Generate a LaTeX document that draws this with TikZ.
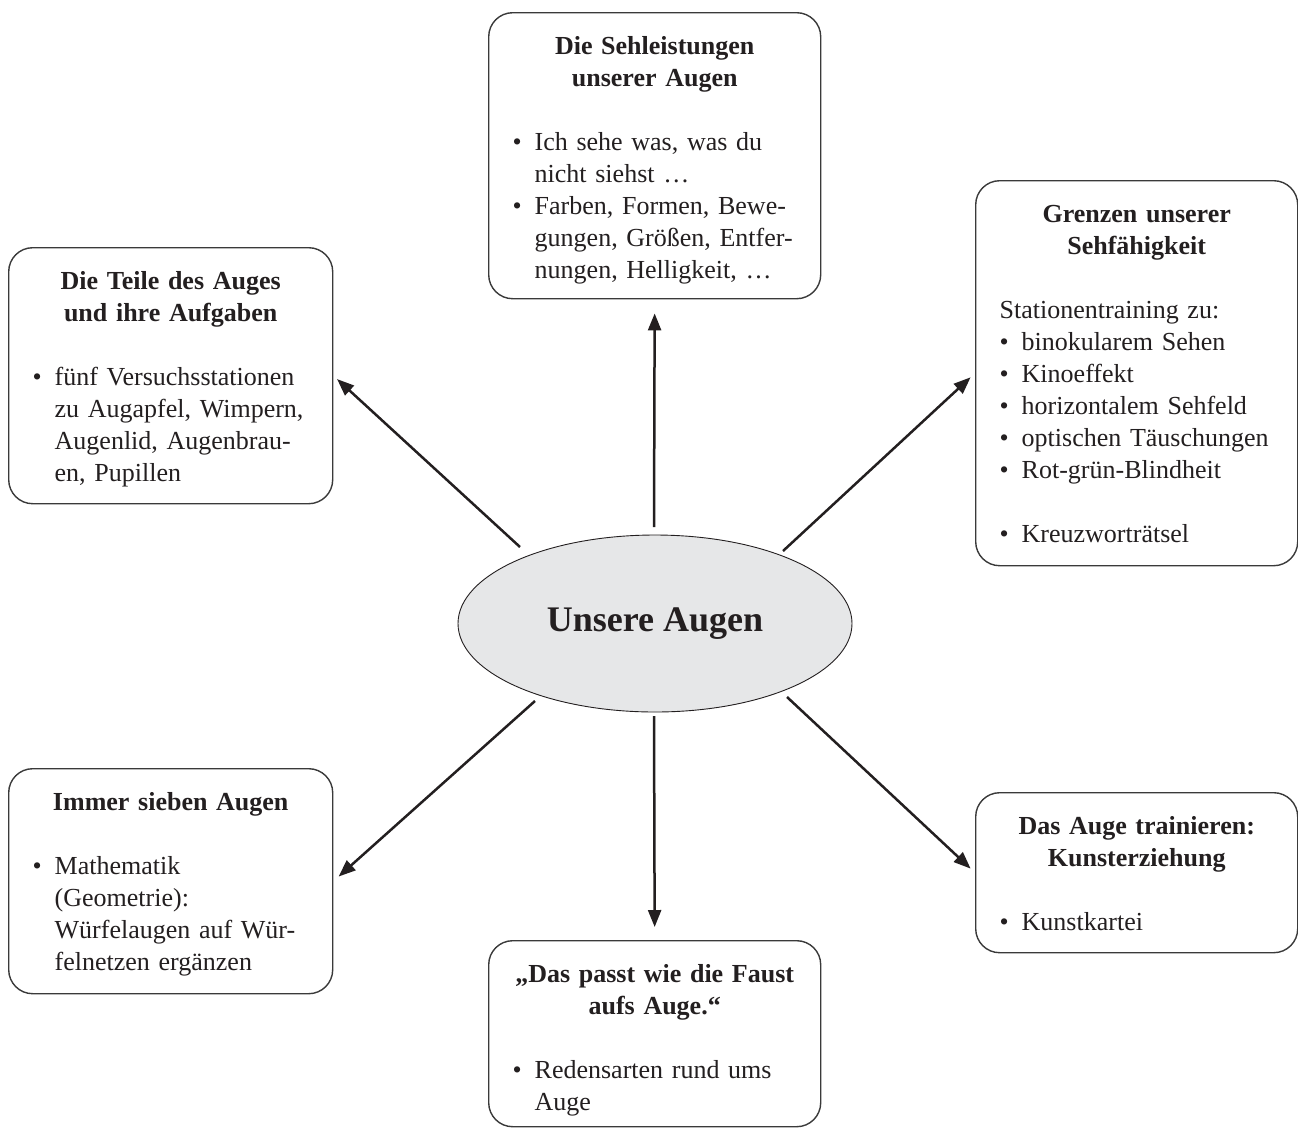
\documentclass[tikz,border=0pt]{standalone}
\usepackage{fontspec}
\setmainfont{Liberation Serif}
\usetikzlibrary{shapes.geometric,arrows.meta}
\definecolor{ink}{HTML}{231F20}
\definecolor{boxline}{HTML}{3A3A3A}
\definecolor{ellfill}{HTML}{E6E7E8}
\newcommand{\bodyfont}{\fontsize{26}{32}\selectfont}
\newcommand{\bitem}[1]{\par\hangindent=22pt\hangafter=1\noindent\makebox[22pt][l]{\textbullet}#1\par}
\newcommand{\btitle}[1]{{\centering\bfseries #1\par}\vspace{32pt}}
\tikzset{
  boxshape/.style={draw=boxline, line width=1.4pt, rounded corners=24pt, fill=white, inner sep=0pt},
  boxtext/.style={anchor=base, text width=#1, inner sep=0pt, font=\bodyfont, text=ink},
  arr/.style={line width=2.5pt, draw=ink, -{Triangle[length=17pt,width=13pt]}},
}
\begin{document}
\begin{tikzpicture}[x=1pt,y=-1pt]
\useasboundingbox (0,0) rectangle (1298,1128);
% boxes
\node[boxshape, minimum width=332pt, minimum height=286pt, anchor=north west] (T) at (488,12) {};
\node[boxshape, minimum width=322pt, minimum height=385pt, anchor=north west] (G) at (975,180) {};
\node[boxshape, minimum width=324pt, minimum height=256pt, anchor=north west] (L) at (8,247) {};
\node[boxshape, minimum width=324pt, minimum height=225pt, anchor=north west] (I) at (8,768) {};
\node[boxshape, minimum width=332pt, minimum height=186pt, anchor=north west] (F) at (488,940) {};
\node[boxshape, minimum width=322pt, minimum height=160pt, anchor=north west] (K) at (975,792) {};
% texts
\node[boxtext=284pt, yshift=-42pt] (Tt) at (T.north) {\raggedright\parskip=0pt
 \btitle{Die Sehleistungen\\unserer Augen}
 \bitem{Ich sehe was, was du\newline nicht siehst …}
 \bitem{Farben, Formen, Bewe-\newline gungen, Größen, Entfer-\newline nungen, Helligkeit, …}};
\node[boxtext=274pt, yshift=-42pt] (Gt) at (G.north) {\raggedright\parskip=0pt
 \btitle{Grenzen unserer\\Sehfähigkeit}
 \noindent Stationentraining zu:
 \bitem{binokularem Sehen}
 \bitem{Kinoeffekt}
 \bitem{horizontalem Sehfeld}
 \bitem{optischen Täuschungen}
 \bitem{Rot-grün-Blindheit}\vspace{32pt}
 \bitem{Kreuzworträtsel}};
\node[boxtext=276pt, yshift=-42pt] (Lt) at (L.north) {\raggedright\parskip=0pt
 \btitle{Die Teile des Auges\\und ihre Aufgaben}
 \bitem{fünf Versuchsstationen\newline zu Augapfel, Wimpern,\newline Augenlid, Augenbrau-\newline en, Pupillen}};
\node[boxtext=276pt, yshift=-42pt] (It) at (I.north) {\raggedright\parskip=0pt
 \btitle{Immer sieben Augen}
 \bitem{Mathematik\newline (Geometrie):\newline Würfelaugen auf Wür-\newline felnetzen ergänzen}};
\node[boxtext=284pt, yshift=-42pt] (Ft) at (F.north) {\raggedright\parskip=0pt
 \btitle{„Das passt wie die Faust\\aufs Auge.“}
 \bitem{Redensarten rund ums\newline Auge}};
\node[boxtext=274pt, yshift=-42pt] (Kt) at (K.north) {\raggedright\parskip=0pt
 \btitle{Das Auge trainieren:\\Kunsterziehung}
 \bitem{Kunstkartei}};
% centre
\node[ellipse, draw=ink, line width=0.9pt, fill=ellfill, minimum width=394pt, minimum height=177pt, inner sep=0pt, text=ink, font=\fontsize{36}{40}\selectfont\bfseries] (E) at (655,623.5) {Unsere Augen};
% arrow starts
\coordinate (sU) at (654,527);
\coordinate (sD) at (654,716);
\coordinate (sUL) at (520,547);
\coordinate (sUR) at (783,551);
\coordinate (sLL) at (535,701);
\coordinate (sLR) at (787,697);
\draw[arr, shorten >=14pt] (sU) -- (T.south);
\draw[arr, shorten >=13pt] (sD) -- (F.north);
\draw[arr, shorten >=5pt] (sUL) -- (L.east);
\draw[arr, shorten >=6pt] (sUR) -- (G.west);
\draw[arr, shorten >=7pt] (sLL) -- (I.east);
\draw[arr, shorten >=6pt] (sLR) -- (K.west);
\end{tikzpicture}
\end{document}
